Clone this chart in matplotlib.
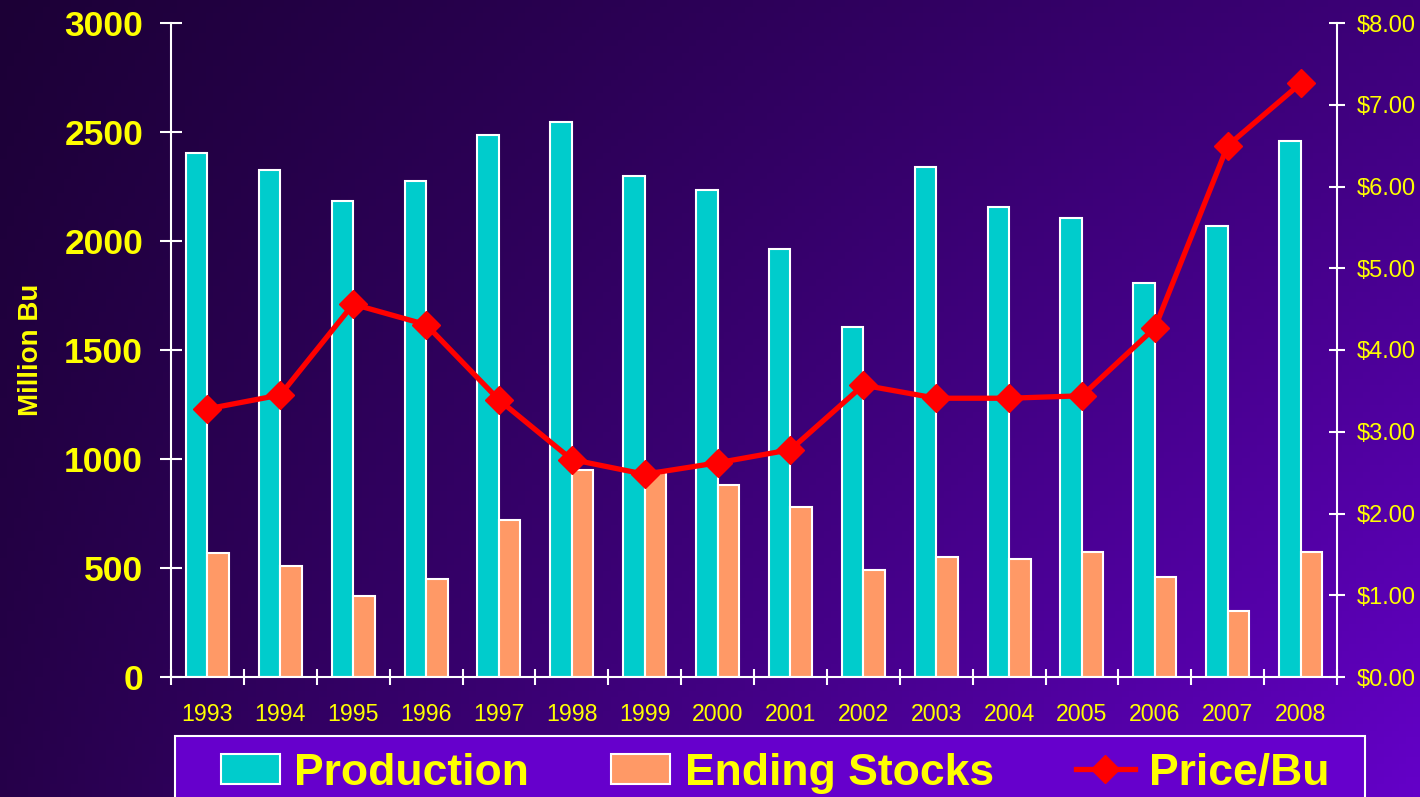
import numpy as np
import matplotlib
matplotlib.use("Agg")
import matplotlib.pyplot as plt
from matplotlib.patches import Rectangle

plt.rcParams['font.family'] = ['Liberation Sans', 'DejaVu Sans']

years = ['1993', '1994', '1995', '1996', '1997', '1998', '1999', '2000',
         '2001', '2002', '2003', '2004', '2005', '2006', '2007', '2008']
production = [2402, 2326, 2183, 2275, 2486, 2544, 2298, 2234,
              1962, 1607, 2341, 2156, 2106, 1809, 2070, 2460]
ending_stocks = [567, 509, 372, 450, 719, 948, 946, 879,
                 778, 491, 550, 541, 575, 457, 304, 575]
price = [3.28, 3.45, 4.56, 4.31, 3.39, 2.66, 2.48, 2.62,
         2.78, 3.57, 3.41, 3.41, 3.44, 4.27, 6.50, 7.26]
left_ticks = [0, 500, 1000, 1500, 2000, 2500, 3000]
right_ticks = [0, 1, 2, 3, 4, 5, 6, 7, 8]

YEL = '#FFFF00'
W = 1420
H = 797
fig = plt.figure(figsize=(W / 100, H / 100), dpi=100)

# background gradient (dark left/top -> brighter purple bottom right)
bg = fig.add_axes([0, 0, 1, 1], zorder=-10)
nx, ny = 200, 120
xx, yy = np.meshgrid(np.linspace(0, 1, nx), np.linspace(0, 1, ny))  # yy=0 top
tl = np.array([0x1c, 0x00, 0x36]) / 255
tr = np.array([0x3c, 0x00, 0x78]) / 255
bl = np.array([0x26, 0x00, 0x4a]) / 255
br = np.array([0x64, 0x00, 0xc8]) / 255
img = ((1 - xx)[..., None] * (1 - yy)[..., None] * tl + xx[..., None] * (1 - yy)[..., None] * tr
       + (1 - xx)[..., None] * yy[..., None] * bl + xx[..., None] * yy[..., None] * br)
bg.imshow(img, aspect='auto', extent=[0, 1, 0, 1], origin='upper')
bg.axis('off')

ax = fig.add_axes([171 / W, 1 - 677 / H, 1166 / W, 654 / H])
ax.patch.set_alpha(0)
x = np.arange(len(years))
bw = 0.295
ax.bar(x - bw / 2, production, bw, color='#00CCCC', edgecolor='white', linewidth=1.5, label='Production')
ax.bar(x + bw / 2, ending_stocks, bw, color='#FF9966', edgecolor='white', linewidth=1.5, label='Ending Stocks')
ax.set_xlim(-0.5, len(years) - 0.5)
ax.set_ylim(0, 3000)
ax.set_yticks(left_ticks)
ax.set_yticklabels([str(v) for v in left_ticks], fontsize=25.5, fontweight='bold', color=YEL)
ax.set_xticks(x)
ax.set_xticklabels(years, fontsize=16.7, color=YEL)
ax.set_xticks(np.arange(len(years) + 1) - 0.5, minor=True)
ax.tick_params(axis='x', which='major', length=0, pad=19)
ax.tick_params(axis='x', which='minor', direction='inout', length=11, width=1.5, color='white')
ax.tick_params(axis='y', direction='inout', length=16, width=1.5, color='white', pad=12)
ax.set_ylabel('Million Bu', fontsize=20, fontweight='bold', color=YEL)
ax.yaxis.set_label_coords(-0.109, 0.5)
for s in ['top', 'right']:
    ax.spines[s].set_visible(False)
for s in ['left', 'bottom']:
    ax.spines[s].set_color('white')
    ax.spines[s].set_linewidth(1.5)

ax2 = ax.twinx()
ax2.plot(x, price, color='#FF0000', linewidth=3.8, marker='D', markersize=14, label='Price/Bu')
ax2.set_ylim(0, 8)
ax2.set_yticks(right_ticks)
ax2.set_yticklabels(['${:.2f}'.format(v) for v in right_ticks], fontsize=17, color=YEL)
ax2.tick_params(axis='y', direction='inout', length=12, width=1.5, color='white', pad=8)
for s in ['top', 'left', 'bottom']:
    ax2.spines[s].set_visible(False)
ax2.spines['right'].set_color('white')
ax2.spines['right'].set_linewidth(1.5)

# legend box (runs off the bottom edge)
fig.patches.append(Rectangle((175 / W, -0.05), 1190 / W, 0.05 + (H - 736) / H,
                             transform=fig.transFigure, facecolor='#6600CC',
                             edgecolor='white', linewidth=1.5, zorder=1))

h1, l1 = ax.get_legend_handles_labels()
h2, l2 = ax2.get_legend_handles_labels()
fs = 32
pad_px = 0.6 * fs * 100 / 72
leg = fig.legend(h1 + h2, l1 + l2, loc='upper left', ncol=3,
                 bbox_to_anchor=((221 - pad_px) / W, 1 - 726 / H),
                 prop={'size': fs, 'weight': 'bold'}, labelcolor=YEL,
                 frameon=False, borderpad=0.6, handlelength=1.32, handleheight=0.66,
                 handletextpad=0.33, columnspacing=1.85, borderaxespad=0)

fig.savefig('out.png', dpi=100)
